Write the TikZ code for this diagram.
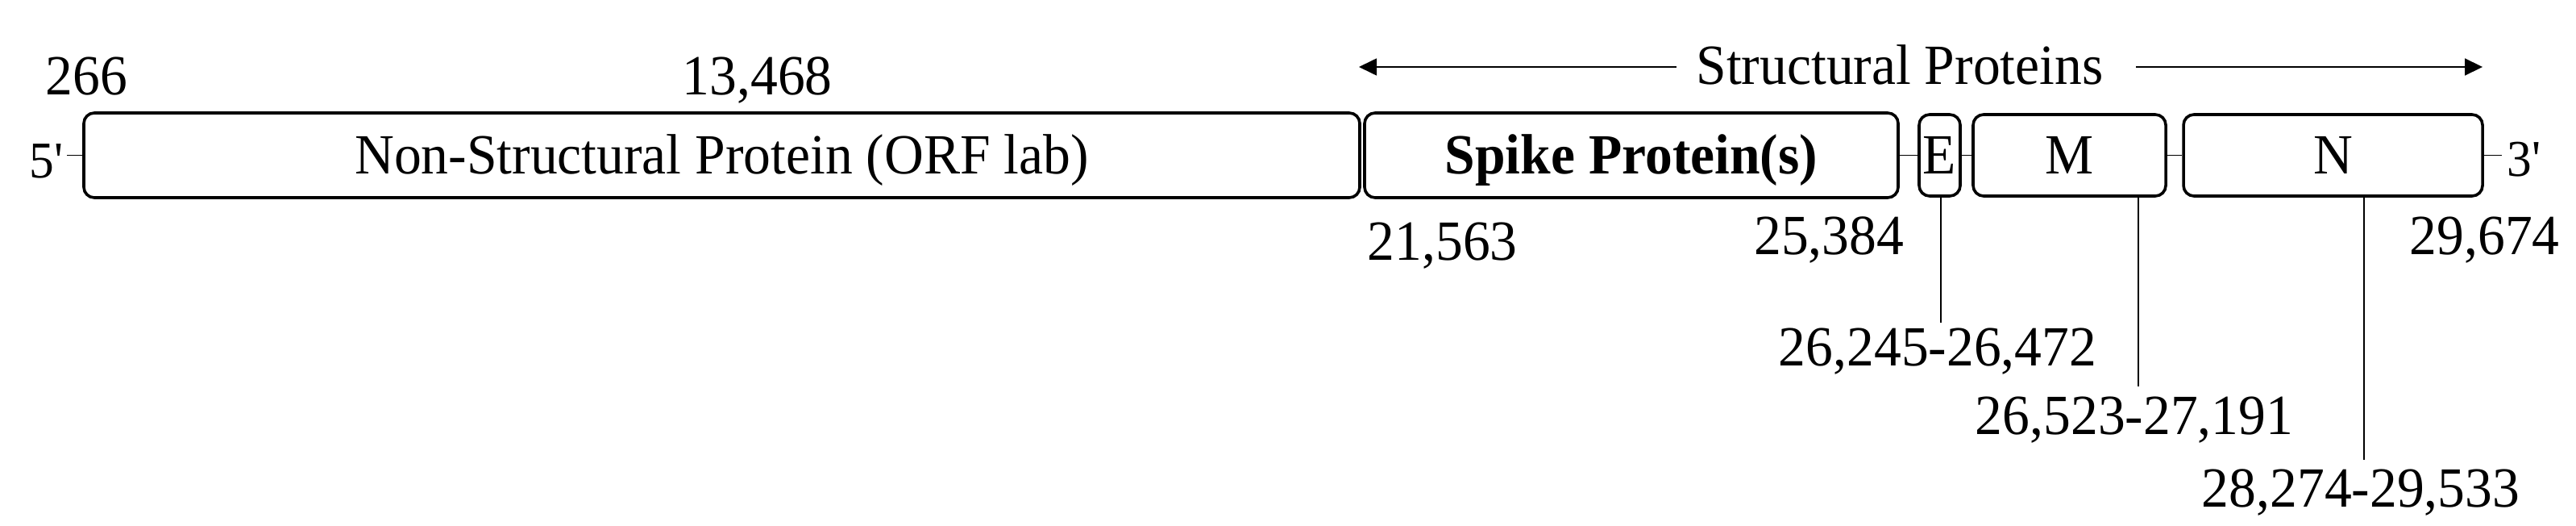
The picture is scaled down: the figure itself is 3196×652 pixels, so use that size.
\documentclass[tikz,border=0pt]{standalone}
\usepackage{fontspec}
\setmainfont{Liberation Serif}[FakeStretch=0.96]
\newfontfamily\primefont{Liberation Serif}[FakeStretch=0.96,Ligatures=TeXOff]
\usetikzlibrary{arrows.meta}
\begin{document}
\begin{tikzpicture}[x=0.25pt,y=-0.25pt,
  font=\fontsize{17.6}{20}\selectfont,
  gbox/.style={draw, line width=0.9pt, rounded corners=3.25pt, inner sep=0pt,
    text height=11.65pt, text depth=0pt, align=center},
  thinline/.style={line width=0.45pt},
  lbl/.style={inner sep=0pt},
  small/.style={font=\fontsize{16}{18}\selectfont\primefont, inner sep=0pt},
  arr/.style={line width=0.45pt, -{Triangle[length=5.5pt,width=5.25pt]}}]
\fill[white] (0,0) rectangle (3196,652);
\useasboundingbox (0,0) rectangle (3196,652);

% genome boxes
\node[gbox, minimum width=395.75pt, minimum height=26.25pt] (nsp) at (895.5,192.5) {Non-Structural Protein (ORF lab)};
\node[gbox, minimum width=165.5pt, minimum height=26.25pt] (spike) at (2024,192.5) {\textbf{Spike Protein(s)}};
\node[gbox, minimum width=12.75pt, minimum height=25.25pt] (E) at (2406.5,192.5) {E};
\node[gbox, minimum width=59.75pt, minimum height=25.25pt] (M) at (2567.5,192.5) {M};
\node[gbox, minimum width=92.75pt, minimum height=25.25pt] (N) at (2894.5,192.5) {N};

% ends
\node[small, anchor=base east] (p5) at (79,221) {5'};
\node[small, anchor=base west] (p3) at (3110,219) {3'};
\coordinate (t5) at (83,192.5);
\coordinate (t3) at (3104,192.5);
\draw[thinline] (t5) -- (nsp.west);
\draw[thinline] (spike.east) -- (E.west);
\draw[thinline] (E.east) -- (M.west);
\draw[thinline] (M.east) -- (N.west);
\draw[thinline] (N.east) -- (t3);

% top labels
\node[lbl, anchor=base west] (l266) at (56,118) {266};
\node[lbl, anchor=base west] (l13468) at (846,118) {13,468};
\node[lbl, anchor=base] (title) at (2357,105) {Structural Proteins};
\coordinate (aLs) at (2080,83);
\coordinate (aLe) at (1686,83);
\coordinate (aRs) at (2650,83);
\coordinate (aRe) at (3080,83);
\draw[arr] (aLs) -- (aLe);
\draw[arr] (aRs) -- (aRe);

% bottom labels
\node[lbl, anchor=base west] (l21563) at (1696,322) {21,563};
\node[lbl, anchor=base east] (l25384) at (2363,315) {25,384};
\node[lbl, anchor=base west] (l29674) at (2989,315) {29,674};
\node[lbl, anchor=base] (lE) at (2404,453) {26,245-26,472};
\node[lbl, anchor=base] (lM) at (2648,538) {26,523-27,191};
\node[lbl, anchor=base] (lN) at (2929,628) {28,274-29,533};

% leaders
\coordinate (eL) at (2408,400);
\coordinate (mL) at (2653,479);
\coordinate (nL) at (2933,570);
\draw[thinline] (eL |- E.south) -- (eL);
\draw[thinline] (mL |- M.south) -- (mL);
\draw[thinline] (nL |- N.south) -- (nL);
\end{tikzpicture}
\end{document}
